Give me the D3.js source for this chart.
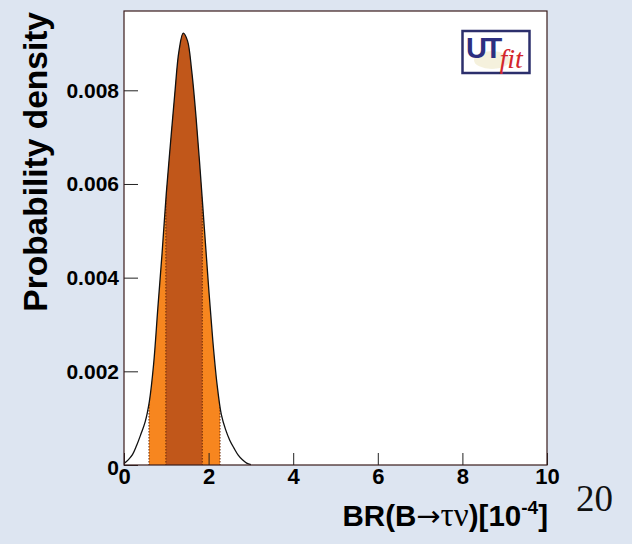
<!DOCTYPE html>
<html><head><meta charset="utf-8">
<script src="https://cdn.jsdelivr.net/npm/d3@7"></script>
<style>
html,body{margin:0;padding:0;background:#dde5f1;}
svg{display:block;}
</style></head>
<body>
<svg id="chart" width="632" height="544"></svg>
<script>
// ---- data ----
const xValues = [0.0,0.1,0.2,0.3,0.4,0.5,0.6,0.7,0.8,0.9,1.0,1.1,1.2,1.3,1.4,1.5,1.6,1.7,1.8,1.9,2.0,2.1,2.2,2.3,2.4,2.5,2.6,2.7,2.8,2.9,3.0];
const density = [0.00003,0.00011,0.00022,0.00042,0.00066,0.00092,0.00136,0.00215,0.00335,0.00452,0.00580,0.00688,0.00792,0.00884,0.00922,0.00906,0.00842,0.00746,0.00630,0.00505,0.00380,0.00265,0.00172,0.00108,0.00076,0.00053,0.00036,0.00021,0.00011,0.00004,0.00001];
const band95 = [0.59, 2.27];
const band68 = [0.99, 1.85];
const xTickLabels = [0,2,4,6,8,10];
const xMinorTicks = d3.range(0, 10.01, 0.5);
const yTickLabels = [0,0.002,0.004,0.006,0.008];
const yMinorTicks = d3.range(0, 0.0096, 0.0005);

// ---- layout ----
const svg = d3.select("#chart");
const L = 124, R = 547, T = 11, B = 465;
const x = d3.scaleLinear().domain([0,10]).range([L,R]);
const y = d3.scaleLinear().domain([0,0.008]).range([B,90.3]);

svg.append("rect").attr("width",632).attr("height",544).attr("fill","#dde5f1");
svg.append("rect").attr("x",L).attr("y",T).attr("width",R-L).attr("height",B-T).attr("fill","#ffffff");

const pts = xValues.map((v,i)=>[v,density[i]]);
const curve = d3.curveCatmullRom.alpha(0.5);
const area = d3.area().x(d=>x(d[0])).y0(y(0)).y1(d=>Math.min(y(0),y(d[1]))).curve(curve);
const line = d3.line().x(d=>x(d[0])).y(d=>Math.min(y(0),y(d[1]))).curve(curve);

const defs = svg.append("defs");
defs.append("clipPath").attr("id","c95").append("rect")
  .attr("x",x(band95[0])).attr("y",T).attr("width",x(band95[1])-x(band95[0])).attr("height",B-T);
defs.append("clipPath").attr("id","c68").append("rect")
  .attr("x",x(band68[0])).attr("y",T).attr("width",x(band68[1])-x(band68[0])).attr("height",B-T);
defs.append("clipPath").attr("id","cArea").append("path").attr("d",area(pts));

svg.append("path").attr("d",area(pts)).attr("fill","#f7861f").attr("clip-path","url(#c95)");
svg.append("path").attr("d",area(pts)).attr("fill","#c1571a").attr("clip-path","url(#c68)");

// dotted edges of the intervals
const edges = svg.append("g").attr("clip-path","url(#cArea)");
[band95[0],band68[0],band68[1],band95[1]].forEach(v=>{
  edges.append("line").attr("x1",x(v)).attr("x2",x(v)).attr("y1",T).attr("y2",B)
    .attr("stroke","#6a2a08").attr("stroke-width",1).attr("stroke-dasharray","1.5,1.5");
});

svg.append("path").attr("d",line(pts)).attr("fill","none").attr("stroke","#111").attr("stroke-width",1.3);

// ---- axes ----
const fontSans = "'Liberation Sans', Arial, Helvetica, sans-serif";
const fontSerif = "'Liberation Serif', 'Times New Roman', serif";
const gx = svg.append("g").attr("transform",`translate(0,${B})`);
gx.call(d3.axisBottom(x).tickValues(xMinorTicks).tickSize(-6).tickFormat(""));
gx.call(d3.axisBottom(x).tickValues(xTickLabels).tickSize(-12).tickPadding(3).tickFormat(d3.format("d")));
gx.selectAll(".domain").remove();
gx.selectAll("line").attr("stroke","#222");
gx.selectAll("text").attr("font-family",fontSans).attr("font-weight","bold").attr("font-size",22).attr("fill","#000");

const gy = svg.append("g").attr("transform",`translate(${L},0)`);
gy.call(d3.axisLeft(y).tickValues(yMinorTicks).tickSize(-7).tickFormat(""));
gy.call(d3.axisLeft(y).tickValues(yTickLabels).tickSize(-14).tickPadding(5).tickFormat(d=>d===0?"0":d3.format(".3f")(d)));
gy.selectAll(".domain").remove();
gy.selectAll("line").attr("stroke","#222");
gy.selectAll("text").attr("font-family",fontSans).attr("font-weight","bold").attr("font-size",21).attr("fill","#000");
gy.selectAll(".tick").filter(d=>d===0).select("text").attr("dy","0.45em");

// frame
svg.append("rect").attr("x",L).attr("y",T).attr("width",R-L).attr("height",B-T)
  .attr("fill","none").attr("stroke","#3a1c1c").attr("stroke-width",1.2);

// ---- titles ----
svg.append("text").attr("transform",`translate(47,${T+1}) rotate(-90)`)
  .attr("text-anchor","end").attr("font-family",fontSans).attr("font-weight","bold")
  .attr("font-size",33.5).attr("fill","#000").text("Probability density");

const xt = svg.append("text").attr("x",548).attr("y",526).attr("text-anchor","end")
  .attr("font-family",fontSans).attr("font-weight","bold").attr("font-size",29.5).attr("fill","#000");
xt.append("tspan").text("BR(B");
xt.append("tspan").attr("font-family","'DejaVu Sans', sans-serif").attr("font-weight","normal").attr("font-size",29).text("\u2192");
xt.append("tspan").attr("font-family",fontSerif).attr("font-weight","normal").attr("font-size",33).text("\u03C4\u03BD");
xt.append("tspan").text(")[10");
xt.append("tspan").attr("font-size",19).attr("dy",-12).text("-4");
xt.append("tspan").attr("dy",12).text("]");

svg.append("text").attr("x",576).attr("y",511).attr("font-family",fontSerif)
  .attr("font-size",37).attr("fill","#111").text("20");

// ---- UTfit logo ----
const logo = svg.append("g");
logo.append("rect").attr("x",462.5).attr("y",31).attr("width",67).attr("height",42)
  .attr("fill","#ffffff").attr("stroke","#2c2f6c").attr("stroke-width",2.5);
logo.append("ellipse").attr("cx",492).attr("cy",60).attr("rx",18).attr("ry",9).attr("fill","#f3edd5").attr("opacity",0.8);
logo.append("text").attr("x",466).attr("y",58).attr("font-family",fontSans).attr("font-weight","bold")
  .attr("font-size",29).attr("letter-spacing",-2.5).attr("fill","#2d2f80").text("UT");
logo.append("text").attr("x",499.5).attr("y",68).attr("font-family",fontSerif)
  .attr("font-style","italic").attr("font-size",28).attr("fill","#d3262c").text("fit");
</script>
</body></html>
